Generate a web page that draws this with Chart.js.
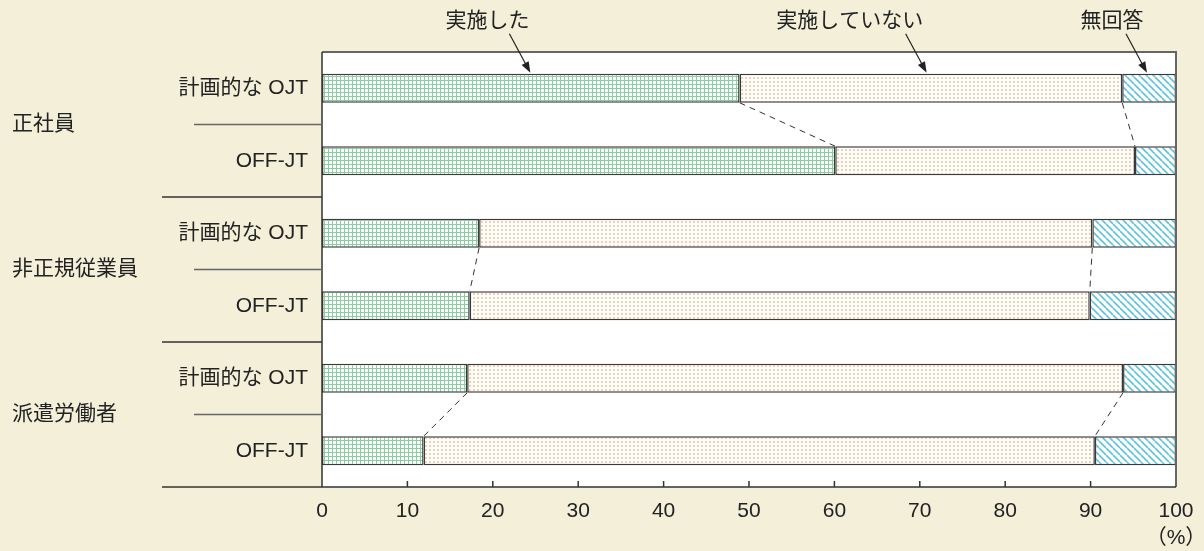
<!DOCTYPE html>
<html lang="ja">
<head>
<meta charset="utf-8">
<title>教育訓練の実施状況</title>
<script src="https://cdn.jsdelivr.net/npm/chart.js@4.4.1/dist/chart.umd.min.js"></script>
<style>
  html, body { margin: 0; padding: 0; background: #f3efd8; }
  #wrap { width: 1204px; height: 551px; }
</style>
</head>
<body>
<div id="wrap"><canvas id="trainingChart" width="1204" height="551"></canvas></div>
<script>
// rows: 計画的なOJT / OFF-JT for each employee type
const categories = ['計画的な OJT', 'OFF-JT', '計画的な OJT', 'OFF-JT', '計画的な OJT', 'OFF-JT'];
const groups = ['正社員', '非正規従業員', '派遣労働者'];
const seriesNames = ['実施した', '実施していない', '無回答'];
const implemented = [48.9, 60.1, 18.4, 17.3, 17.0, 11.9];
const notImplemented = [44.8, 35.1, 71.8, 72.6, 76.8, 78.6];
const noAnswer = [6.3, 4.8, 9.8, 10.1, 6.2, 9.5];
const xTicks = [0, 10, 20, 30, 40, 50, 60, 70, 80, 90, 100];
// where the legend arrows point on the first bar (%)
const notePoints = [24.4, 70.8, 96.6];

const BG = '#f3efd8';
const FONT = '"Liberation Sans", "Noto Sans CJK JP", sans-serif';

function makePattern(size, draw) {
  const c = document.createElement('canvas');
  c.width = size; c.height = size;
  const g = c.getContext('2d');
  g.fillStyle = '#fff';
  g.fillRect(0, 0, size, size);
  draw(g, size);
  return c.getContext('2d').createPattern(c, 'repeat');
}

const gridFill = makePattern(4, (g) => {
  g.fillStyle = '#8ccca3';
  g.fillRect(0, 0, 4, 1);
  g.fillRect(0, 0, 1, 4);
});

const dotFill = makePattern(4, (g) => {
  g.fillStyle = '#fbcfa3';
  g.fillRect(1, 1, 2, 2);
});

const stripeFill = makePattern(7, (g, s) => {
  g.strokeStyle = '#5ec2de';
  g.lineWidth = 1.6;
  for (const off of [-s, 0, s]) {
    g.beginPath();
    g.moveTo(off, 0);
    g.lineTo(off + s, s);
    g.stroke();
  }
});

const stacks = [implemented, notImplemented, noAnswer];
const fills = [gridFill, dotFill, stripeFill];

const framePlugin = {
  id: 'frame',
  beforeDraw(chart) {
    const { ctx, chartArea: a } = chart;
    ctx.save();
    ctx.fillStyle = BG;
    ctx.fillRect(0, 0, chart.width, chart.height);
    ctx.fillStyle = '#fff';
    ctx.fillRect(a.left, a.top, a.right - a.left, a.bottom - a.top);
    ctx.restore();
  },
  afterDatasetsDraw(chart) {
    const { ctx, chartArea: a } = chart;
    const xs = chart.scales.x, ys = chart.scales.y;
    const bars = chart.getDatasetMeta(0).data;
    const half = bars[0].height / 2;

    ctx.save();

    // dashed connectors between the two rows of each group
    ctx.strokeStyle = '#333';
    ctx.lineWidth = 1;
    ctx.setLineDash([6, 5]);
    for (let i = 0; i < categories.length; i += 2) {
      const upper = [implemented[i], implemented[i] + notImplemented[i]];
      const lower = [implemented[i + 1], implemented[i + 1] + notImplemented[i + 1]];
      for (let k = 0; k < 2; k++) {
        ctx.beginPath();
        ctx.moveTo(xs.getPixelForValue(upper[k]), ys.getPixelForValue(i) + half);
        ctx.lineTo(xs.getPixelForValue(lower[k]), ys.getPixelForValue(i + 1) - half);
        ctx.stroke();
      }
    }
    ctx.setLineDash([]);

    // plot frame
    ctx.strokeStyle = '#666';
    ctx.lineWidth = 2;
    ctx.beginPath();
    ctx.moveTo(a.left, a.top);
    ctx.lineTo(a.right, a.top);
    ctx.lineTo(a.right, a.bottom);
    ctx.stroke();

    ctx.strokeStyle = '#333';
    ctx.lineWidth = 1.5;
    ctx.beginPath();
    ctx.moveTo(a.left, a.top);
    ctx.lineTo(a.left, a.bottom);
    ctx.moveTo(162, a.bottom);
    ctx.lineTo(a.right, a.bottom);
    ctx.stroke();

    // inward tick marks
    xTicks.forEach((t) => {
      if (t === 0 || t === 100) return;
      const px = xs.getPixelForValue(t);
      ctx.beginPath();
      ctx.moveTo(px, a.bottom);
      ctx.lineTo(px, a.bottom - 6);
      ctx.stroke();
    });

    // row separators in the label column
    for (let i = 0; i < categories.length - 1; i++) {
      const y = (ys.getPixelForValue(i) + ys.getPixelForValue(i + 1)) / 2;
      const inGroup = i % 2 === 0;
      ctx.strokeStyle = inGroup ? '#666' : '#333';
      ctx.lineWidth = inGroup ? 1.5 : 1.3;
      ctx.beginPath();
      ctx.moveTo(inGroup ? 194 : 162, y);
      ctx.lineTo(a.left, y);
      ctx.stroke();
    }

    ctx.fillStyle = '#222';
    ctx.font = '21px ' + FONT;
    ctx.textBaseline = 'middle';
    ctx.textAlign = 'left';
    groups.forEach((name, g) => {
      const y = (ys.getPixelForValue(2 * g) + ys.getPixelForValue(2 * g + 1)) / 2;
      ctx.fillText(name, 12, y);
    });

    // unit under the last tick
    ctx.textAlign = 'center';
    ctx.fillText('（%）', xs.getPixelForValue(100), 538);

    // series notes with arrows to the first bar
    const textShift = [-43, -77, -35];
    const topY = ys.getPixelForValue(0) - half - 1;
    seriesNames.forEach((name, s) => {
      const tx = xs.getPixelForValue(notePoints[s]);
      ctx.fillStyle = '#222';
      ctx.fillText(name, tx + textShift[s], 21);
      const sx = tx - 21, sy = topY - 39;
      const ang = Math.atan2(topY - sy, tx - sx);
      ctx.strokeStyle = '#222';
      ctx.lineWidth = 1.2;
      ctx.beginPath();
      ctx.moveTo(sx, sy);
      ctx.lineTo(tx - 8 * Math.cos(ang), topY - 8 * Math.sin(ang));
      ctx.stroke();
      ctx.beginPath();
      ctx.moveTo(tx, topY);
      ctx.lineTo(tx - 11 * Math.cos(ang) + 4 * Math.sin(ang), topY - 11 * Math.sin(ang) - 4 * Math.cos(ang));
      ctx.lineTo(tx - 11 * Math.cos(ang) - 4 * Math.sin(ang), topY - 11 * Math.sin(ang) + 4 * Math.cos(ang));
      ctx.closePath();
      ctx.fill();
    });

    ctx.restore();
  }
};

Chart.defaults.font.family = FONT;
Chart.defaults.font.size = 21;
Chart.defaults.color = '#222';

new Chart(document.getElementById('trainingChart'), {
  type: 'bar',
  data: {
    labels: categories,
    datasets: stacks.map((vals, i) => ({
      label: seriesNames[i],
      data: vals,
      backgroundColor: fills[i],
      borderColor: '#3a3a3a',
      borderWidth: 1.5,
      borderSkipped: false,
      categoryPercentage: 0.4,
      barPercentage: 1
    }))
  },
  options: {
    indexAxis: 'y',
    responsive: false,
    animation: false,
    layout: { padding: { top: 52, right: 28, left: 0, bottom: 0 } },
    plugins: {
      legend: { display: false },
      tooltip: { enabled: false }
    },
    scales: {
      x: {
        stacked: true,
        min: 0,
        max: 100,
        afterBuildTicks: (scale) => { scale.ticks = xTicks.map((v) => ({ value: v })); },
        grid: { display: false, drawTicks: false },
        border: { display: false },
        ticks: { padding: 12, maxRotation: 0 },
        afterFit: (scale) => {
          scale.height = 64;
          scale.paddingLeft = 0;
          scale.paddingRight = 0;
        }
      },
      y: {
        stacked: true,
        grid: { display: false, drawTicks: false },
        border: { display: false },
        ticks: { padding: 14 },
        afterFit: (scale) => { scale.width = 322; }
      }
    }
  },
  plugins: [framePlugin]
});
</script>
</body>
</html>
